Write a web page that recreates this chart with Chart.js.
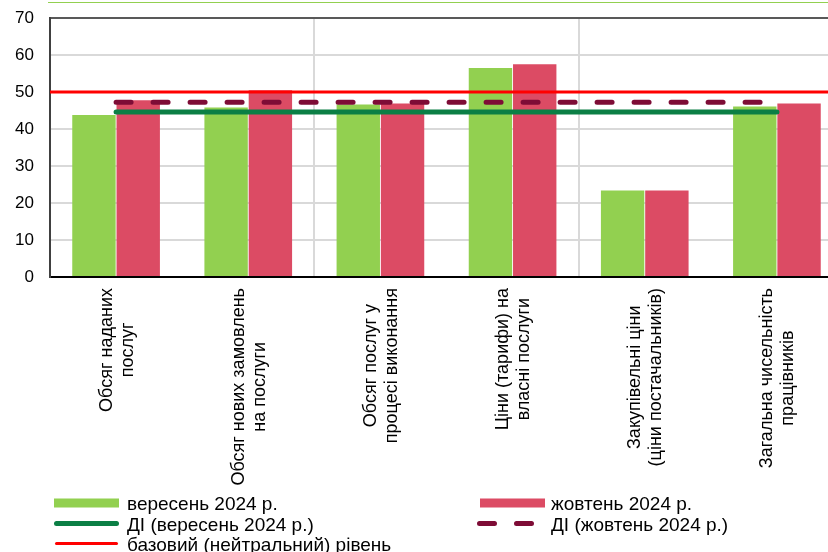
<!DOCTYPE html>
<html lang="uk">
<head>
<meta charset="utf-8">
<title>Оцінки підприємств сфери послуг</title>
<script src="https://cdn.jsdelivr.net/npm/chart.js@4.4.1/dist/chart.umd.min.js"></script>
<style>
  html, body { margin: 0; padding: 0; background: #fff; overflow: hidden; }
  #wrap { position: relative; width: 828px; height: 552px; overflow: hidden; }
  #topline { position: absolute; left: 48px; top: 2px; width: 780px; height: 1px; background: #92d050; }
  #chart { position: absolute; left: 0; top: 0; }
</style>
</head>
<body>
<div id="wrap">
  <div id="topline"></div>
  <canvas id="chart" width="845" height="552"></canvas>
</div>
<script>
'use strict';

// categories, two lines each as in the original
const categories = [
  ['Обсяг наданих', 'послуг'],
  ['Обсяг нових замовлень', 'на послуги'],
  ['Обсяг послуг у', 'процесі виконання'],
  ['Ціни (тарифи) на', 'власні послуги'],
  ['Закупівельні ціни', '(ціни постачальників)'],
  ['Загальна чисельність', 'працівників']
];

const septemberLabel = 'вересень 2024 р.';
const octoberLabel = 'жовтень 2024 р.';
const septemberIndexLabel = 'ДІ (вересень 2024 р.)';
const octoberIndexLabel = 'ДІ (жовтень 2024 р.)';
const neutralLabel = 'базовий (нейтральний) рівень';

const septemberValues = [43.8, 45.8, 46.6, 56.5, 23.4, 46.1];
const octoberValues = [47.8, 50.5, 46.9, 57.5, 23.4, 46.9];
const septemberIndex = [44.6, 44.6, 44.6, 44.6, 44.6, 44.6];
const octoberIndex = [47.2, 47.2, 47.2, 47.2, 47.2, 47.2];
const neutralLevel = 50;

const yMin = 0;
const yMax = 70;
const yStep = 10;

const fontFamily = "'Liberation Sans', Arial, sans-serif";
const greenBar = '#92d050';
const redBar = '#dc4b64';
const greenLine = '#0b7f45';
const darkRedLine = '#7e0c36';
const neutralColor = '#ff0000';

// red horizontal line across the whole plot
const neutralLinePlugin = {
  id: 'neutralLine',
  afterDatasetsDraw(chart) {
    const ctx = chart.ctx;
    const area = chart.chartArea;
    const y = chart.scales.y.getPixelForValue(neutralLevel);
    ctx.save();
    ctx.strokeStyle = neutralColor;
    ctx.lineWidth = 3;
    ctx.beginPath();
    ctx.moveTo(area.left, y);
    ctx.lineTo(area.right, y);
    ctx.stroke();
    ctx.restore();
  }
};

// vertical, centred two-line category labels
const categoryLabelsPlugin = {
  id: 'categoryLabels',
  afterDraw(chart) {
    const ctx = chart.ctx;
    const xScale = chart.scales.x;
    const top = chart.chartArea.bottom + 11;
    ctx.save();
    ctx.font = '18px ' + fontFamily;
    ctx.fillStyle = '#000';
    ctx.textAlign = 'center';
    ctx.textBaseline = 'middle';
    chart.data.labels.forEach((lines, i) => {
      const maxW = Math.max(...lines.map(l => ctx.measureText(l).width));
      ctx.save();
      ctx.translate(xScale.getPixelForValue(i), top);
      ctx.rotate(-Math.PI / 2);
      lines.forEach((line, j) => {
        ctx.fillText(line, -maxW / 2, (j - (lines.length - 1) / 2) * 21 + 1);
      });
      ctx.restore();
    });
    ctx.restore();
  }
};

// two column legend under the labels
const legendPlugin = {
  id: 'twoColLegend',
  afterDraw(chart) {
    const ctx = chart.ctx;
    const ds = chart.data.datasets;
    const items = [
      { col: 0, row: 0, kind: 'rect', color: ds[2].backgroundColor, text: ds[2].label },
      { col: 1, row: 0, kind: 'rect', color: ds[3].backgroundColor, text: ds[3].label },
      { col: 0, row: 1, kind: 'line', color: ds[0].borderColor, width: 5, text: ds[0].label },
      { col: 1, row: 1, kind: 'dash', color: ds[1].borderColor, width: 5, text: ds[1].label },
      { col: 0, row: 2, kind: 'line', color: neutralColor, width: 3, text: neutralLabel }
    ];
    const colX = [54, 480];
    const textX = [127, 551];
    const rowY = [503, 523.5, 543.5];
    ctx.save();
    ctx.font = '19px ' + fontFamily;
    ctx.fillStyle = '#000';
    ctx.textAlign = 'left';
    ctx.textBaseline = 'alphabetic';
    items.forEach(it => {
      const x0 = colX[it.col];
      const y = rowY[it.row];
      if (it.kind === 'rect') {
        ctx.fillStyle = it.color;
        ctx.fillRect(x0, y - 4.5, 65, 9);
      } else {
        ctx.strokeStyle = it.color;
        ctx.lineWidth = it.width;
        ctx.lineCap = 'round';
        ctx.setLineDash(it.kind === 'dash' ? [15, 22] : []);
        ctx.beginPath();
        ctx.moveTo(x0 + (it.kind === 'dash' ? -0.5 : 2.5), y);
        ctx.lineTo(x0 + 62.5, y);
        ctx.stroke();
        ctx.setLineDash([]);
      }
      ctx.fillStyle = '#000';
      ctx.fillText(it.text, textX[it.col], y + 7);
    });
    ctx.restore();
  }
};

const ctx = document.getElementById('chart').getContext('2d');
new Chart(ctx, {
  type: 'bar',
  data: {
    labels: categories,
    datasets: [
      {
        type: 'line',
        label: septemberIndexLabel,
        data: septemberIndex,
        borderColor: greenLine,
        borderWidth: 5,
        borderCapStyle: 'round',
        pointRadius: 0,
        fill: false,
        order: 0
      },
      {
        type: 'line',
        label: octoberIndexLabel,
        data: octoberIndex,
        borderColor: darkRedLine,
        borderWidth: 5,
        borderDash: [15, 22],
        borderCapStyle: 'round',
        pointRadius: 0,
        fill: false,
        order: 0
      },
      {
        label: septemberLabel,
        data: septemberValues,
        backgroundColor: greenBar,
        borderWidth: 0,
        categoryPercentage: 0.67,
        barPercentage: 0.98,
        order: 1
      },
      {
        label: octoberLabel,
        data: octoberValues,
        backgroundColor: redBar,
        borderWidth: 0,
        categoryPercentage: 0.67,
        barPercentage: 0.98,
        order: 1
      }
    ]
  },
  options: {
    responsive: false,
    animation: false,
    layout: { padding: { top: 18, right: 2, left: 0, bottom: 0 } },
    plugins: {
      legend: { display: false },
      tooltip: { enabled: false }
    },
    scales: {
      x: {
        grid: {
          offset: true,
          drawTicks: false,
          lineWidth: 2,
          color: c => (c.index % 2 === 0 ? '#d9d9d9' : 'rgba(0,0,0,0)')
        },
        border: { color: '#000', width: 2 },
        ticks: { display: false },
        afterFit: s => { s.height = 275; }
      },
      y: {
        min: yMin,
        max: yMax,
        ticks: {
          stepSize: yStep,
          padding: 16,
          color: '#000',
          font: { size: 17, family: fontFamily }
        },
        grid: {
          drawTicks: false,
          lineWidth: 2,
          color: c => {
            if (!c.tick) return '#d9d9d9';
            if (c.tick.value === yMax) return '#595959';
            if (c.tick.value === yMin) return '#000';
            return '#d9d9d9';
          }
        },
        border: { color: '#404040', width: 2 },
        afterFit: s => {
          s.width = 50;
          s.paddingTop = 0;
          s.paddingBottom = 0;
        }
      }
    }
  },
  plugins: [neutralLinePlugin, categoryLabelsPlugin, legendPlugin]
});
</script>
</body>
</html>
